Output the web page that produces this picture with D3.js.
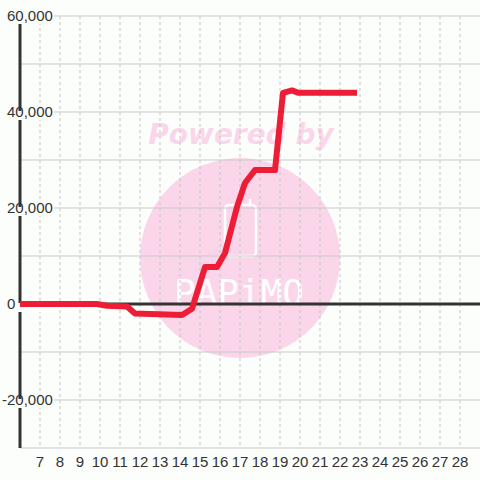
<!DOCTYPE html>
<html>
<head>
<meta charset="utf-8">
<script src="https://cdn.jsdelivr.net/npm/d3@7"></script>
<style>
  body { margin: 0; background: #fcfefc; }
  .tickLabel { font-family: "Liberation Sans", Arial, sans-serif; font-size: 15px; fill: #333333; }
</style>
</head>
<body>
<div id="chart"></div>
<script>
// balance over the month (day of month, value)
var days = [6, 9.85, 10.35, 11.35, 11.75, 14.1, 14.6, 15.25, 15.85, 16.25, 16.85, 17.25, 17.75, 18.75, 19.15, 19.6, 19.9, 22.85];
var balance = [0, 0, -350, -500, -2000, -2300, -1000, 7700, 7700, 10600, 20200, 25200, 27900, 27900, 44000, 44500, 44000, 44000];

var xTickDays = [7, 8, 9, 10, 11, 12, 13, 14, 15, 16, 17, 18, 19, 20, 21, 22, 23, 24, 25, 26, 27, 28];
var yLabelValues = [60000, 40000, 20000, 0, -20000];
var yGridValues = [60000, 50000, 40000, 30000, 20000, 10000, -10000, -20000];

var width = 480, height = 480;
var margin = {top: 16, right: 0, bottom: 32, left: 20};

var svg = d3.select("#chart").append("svg")
    .attr("width", width)
    .attr("height", height);

var x = d3.scaleLinear().domain([6, 29]).range([margin.left, width - margin.right]);
var y = d3.scaleLinear().domain([-30000, 60000]).range([height - margin.bottom, margin.top]);

// watermark
var wm = svg.append("g");
wm.append("circle")
    .attr("cx", 240).attr("cy", 258).attr("r", 100)
    .attr("fill", "#fbd6ea");
wm.append("text")
    .attr("x", 241).attr("y", 144)
    .attr("text-anchor", "middle")
    .style("font-family", "DejaVu Sans")
    .style("font-weight", "bold")
    .style("font-style", "oblique")
    .style("font-size", "28px")
    .attr("fill", "#fbd6ea")
    .text("Powered by");
wm.append("rect")
    .attr("x", 225).attr("y", 205).attr("width", 31).attr("height", 51).attr("rx", 4)
    .attr("fill", "none").attr("stroke", "#ffffff").attr("stroke-width", 2.5);
wm.append("line")
    .attr("x1", 250).attr("y1", 199).attr("x2", 250).attr("y2", 206)
    .attr("stroke", "#ffffff").attr("stroke-width", 2.5);
wm.append("text")
    .attr("x", 239).attr("y", 305)
    .attr("text-anchor", "middle")
    .style("font-family", "DejaVu Sans Mono")
    .style("font-size", "36px")
    .attr("fill", "#ffffff")
    .text("PAPiMO");

// vertical dashed grid
svg.selectAll(".vgrid").data(xTickDays).enter().append("line")
    .attr("class", "vgrid")
    .attr("x1", function(d) { return x(d); })
    .attr("x2", function(d) { return x(d); })
    .attr("y1", y(60000))
    .attr("y2", y(-30000))
    .attr("stroke", "#c4c4c4")
    .attr("stroke-dasharray", "3,3");

// horizontal grid
svg.selectAll(".hgrid").data(yGridValues).enter().append("line")
    .attr("class", "hgrid")
    .attr("x1", margin.left)
    .attr("x2", width)
    .attr("y1", function(d) { return y(d); })
    .attr("y2", function(d) { return y(d); })
    .attr("stroke", "#c8c8c8");

// x axis (bottom)
svg.append("line")
    .attr("x1", margin.left).attr("x2", width)
    .attr("y1", y(-30000)).attr("y2", y(-30000))
    .attr("stroke", "#c8c8c8");

// zero line
svg.append("line")
    .attr("x1", margin.left).attr("x2", width)
    .attr("y1", y(0)).attr("y2", y(0))
    .attr("stroke", "#333333").attr("stroke-width", 3);

// y axis line
svg.append("line")
    .attr("x1", x(6)).attr("x2", x(6))
    .attr("y1", y(60000)).attr("y2", y(-30000))
    .attr("stroke", "#333333").attr("stroke-width", 3);

// y labels with background
var yl = svg.selectAll(".ylab").data(yLabelValues).enter().append("g").attr("class", "ylab");
yl.append("rect")
    .attr("x", 0).attr("width", 54)
    .attr("y", function(d) { return y(d) - 1; })
    .attr("height", 9)
    .attr("fill", "#fcfefc");
yl.append("text")
    .attr("class", "tickLabel")
    .attr("x", function(d) { return d < 0 ? 2 : 7; })
    .attr("y", function(d) { return y(d); })
    .attr("dy", "0.35em")
    .text(function(d) { return d3.format(",")(d).replace("\u2212", "-"); });

// x labels
svg.selectAll(".xlab").data(xTickDays).enter().append("text")
    .attr("class", "tickLabel")
    .attr("x", function(d) { return x(d); })
    .attr("y", 467)
    .attr("text-anchor", "middle")
    .text(function(d) { return d; });

// balance line
var pts = days.map(function(d, i) { return [d, balance[i]]; });
var line = d3.line()
    .x(function(d) { return x(d[0]); })
    .y(function(d) { return y(d[1]); });

svg.append("path")
    .datum(pts)
    .attr("d", line)
    .attr("fill", "none")
    .attr("stroke", "#ee1d36")
    .attr("stroke-width", 6)
    .attr("stroke-linejoin", "round");
</script>
</body>
</html>
